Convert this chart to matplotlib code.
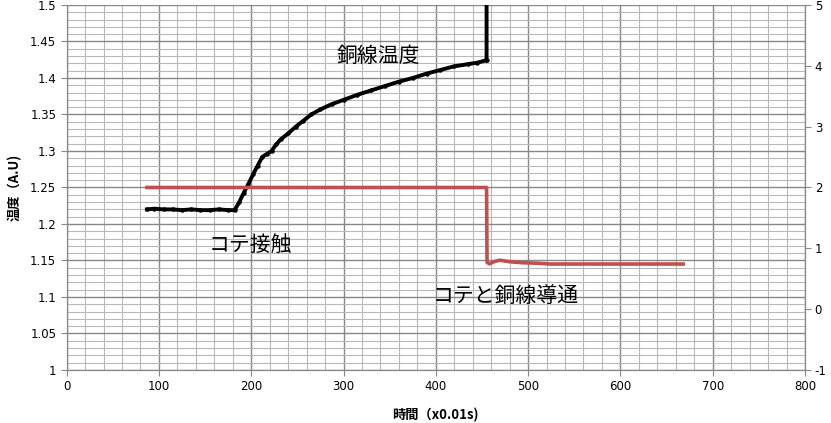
import matplotlib
matplotlib.use("Agg")
import matplotlib.pyplot as plt
from matplotlib.ticker import MultipleLocator

plt.rcParams['font.family'] = ['Noto Sans CJK JP', 'DejaVu Sans']
plt.rcParams['axes.unicode_minus'] = False

# Copper wire temperature (left axis)
temp_x = [87, 95, 105, 115, 125, 135, 145, 155, 165, 175, 182, 187, 192, 197, 202,
          207, 212, 217, 222, 227, 232, 240, 248, 256, 265, 275, 287, 300, 315, 330,
          345, 360, 375, 390, 405, 420, 435, 445, 454, 455, 455]
temp_y = [1.220, 1.221, 1.220, 1.220, 1.219, 1.220, 1.219, 1.219, 1.220, 1.219, 1.219,
          1.230, 1.243, 1.255, 1.268, 1.280, 1.292, 1.296, 1.300, 1.309, 1.316, 1.324,
          1.333, 1.341, 1.350, 1.357, 1.364, 1.370, 1.377, 1.383, 1.389, 1.395, 1.400,
          1.406, 1.411, 1.416, 1.419, 1.421, 1.424, 1.424, 1.60]

# Contact signal (right axis)
sig_x = [87, 200, 300, 400, 455, 455.5, 458, 463, 469, 480, 492, 510, 524, 600, 668]
sig_y = [2.0, 2.0, 2.0, 2.0, 2.0, 0.77, 0.745, 0.78, 0.805, 0.78, 0.765, 0.755, 0.742, 0.742, 0.742]

annotations = [("銅線温度", 338, 1.430), ("コテ接触", 199, 1.171), ("コテと銅線導通", 476, 1.101)]

fig = plt.figure(figsize=(8.31, 4.23), dpi=100)
ax = fig.add_axes([0.0802, 0.1253, 0.8885, 0.8629])
ax2 = ax.twinx()

major_c = '#878787'
minor_c = '#b8b8b8'

ax.set_xlim(0, 800)
ax.set_ylim(1, 1.5)
ax.xaxis.set_major_locator(MultipleLocator(100))
ax.xaxis.set_minor_locator(MultipleLocator(20))
ax.yaxis.set_major_locator(MultipleLocator(0.05))
ax.yaxis.set_minor_locator(MultipleLocator(0.01))
ax.grid(which='minor', color=minor_c, linewidth=0.8)
ax.grid(which='major', color=major_c, linewidth=1.0)
ax.set_axisbelow(True)

ax.set_yticks([1, 1.05, 1.1, 1.15, 1.2, 1.25, 1.3, 1.35, 1.4, 1.45, 1.5])
ax.set_yticklabels(['1', '1.05', '1.1', '1.15', '1.2', '1.25', '1.3', '1.35', '1.4', '1.45', '1.5'])

ax.plot(temp_x, temp_y, color='black', linewidth=2.8, marker='o', markersize=2.2,
        zorder=5, clip_on=True)

ax2.set_ylim(-1, 5)
ax2.yaxis.set_major_locator(MultipleLocator(1))
ax2.plot(sig_x, sig_y, color='#c0504d', linewidth=2.6, zorder=4)

for a in (ax, ax2):
    for s in a.spines.values():
        s.set_color(major_c)
    a.spines['top'].set_visible(False)
    a.tick_params(which='major', direction='out', length=4, color=major_c,
                  labelsize=8.5, labelcolor='black')
    a.tick_params(which='minor', length=0)
    for lab in a.get_xticklabels() + a.get_yticklabels():
        lab.set_family('DejaVu Sans')
ax2.tick_params(axis='y', pad=3)

for txt, x, y in annotations:
    ax.text(x, y, txt, fontsize=15, ha='center', va='center', color='black', zorder=6)

ax.set_xlabel('時間（x0.01s)', fontsize=9.5, fontweight='bold', labelpad=10)
ax.set_ylabel('温度（A.U)', fontsize=9.5, fontweight='bold', labelpad=6)

fig.savefig('out.png', dpi=100)
